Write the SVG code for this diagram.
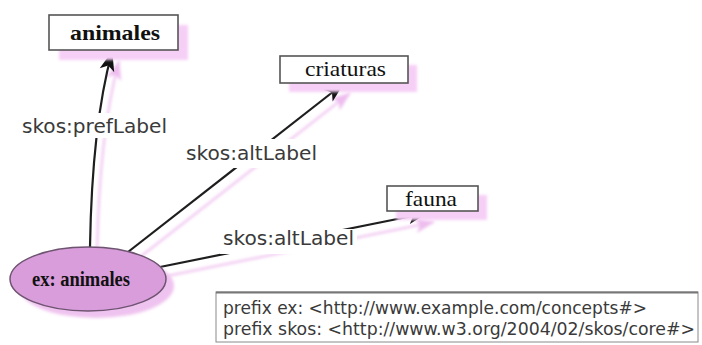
<svg xmlns="http://www.w3.org/2000/svg" width="702" height="345" viewBox="0 0 702 345">
  <style>
    .box { fill: #ffffff; stroke: #555555; stroke-width: 1.6; }
    .shade { fill: #f6cff6; }
    .edge { fill: none; stroke: #1e1e1e; stroke-width: 2.2; }
    .edge-shade { fill: none; stroke: #eebdee; stroke-width: 2; }
    .lbl { font-family: "DejaVu Sans", Verdana, sans-serif; font-size: 20px; fill: #3a3a3a; }
    .lblbg { fill: #ffffff; }
    .term { font-family: "Liberation Serif", "Times New Roman", serif; fill: #111111; }
    .legend { font-family: "DejaVu Sans", Verdana, sans-serif; font-size: 17px; fill: #3a3a3a; }
  </style>
  <defs>
    <filter id="soft" x="-20%" y="-20%" width="140%" height="140%">
      <feGaussianBlur stdDeviation="1.4"/>
    </filter>
    <marker id="head" viewBox="0 0 20 15" refX="19" refY="7.5" markerWidth="20" markerHeight="15" markerUnits="userSpaceOnUse" orient="auto" overflow="visible">
      <path d="M0,0 L20,7.5 L0,15 L5,7.5 z" fill="#111111"/>
    </marker>
    <marker id="head-shade" viewBox="0 0 20 15" refX="19" refY="7.5" markerWidth="20" markerHeight="15" markerUnits="userSpaceOnUse" orient="auto" overflow="visible">
      <path d="M0,0 L20,7.5 L0,15 L5,7.5 z" fill="#eebdee"/>
    </marker>
  </defs>

  <rect width="702" height="345" fill="#ffffff"/>

  <!-- connector shadows and connectors -->
  <g id="connectors">
    <g transform="translate(7,9)" filter="url(#soft)">
      <path class="edge-shade" d="M90,247 Q92,125 112,52" marker-end="url(#head-shade)"/>
      <path class="edge-shade" d="M128,252 L343,84" marker-end="url(#head-shade)"/>
      <path class="edge-shade" d="M160,267 L427,213" marker-end="url(#head-shade)"/>
    </g>
    <path class="edge" d="M90,247 Q92,125 112,52" marker-end="url(#head)"/>
    <path class="edge" d="M128,252 L343,84" marker-end="url(#head)"/>
    <path class="edge" d="M160,267 L427,213" marker-end="url(#head)"/>

    <!-- edge labels sit on a white patch that interrupts the line -->
    <rect class="lblbg" x="19" y="113" width="152" height="25"/>
    <text class="lbl" x="22" y="133" textLength="145" lengthAdjust="spacingAndGlyphs">skos:prefLabel</text>
    <rect class="lblbg" x="183" y="139" width="138" height="29"/>
    <text class="lbl" x="186" y="160" textLength="131" lengthAdjust="spacingAndGlyphs">skos:altLabel</text>
    <rect class="lblbg" x="220" y="229" width="137" height="25"/>
    <text class="lbl" x="223" y="245" textLength="131" lengthAdjust="spacingAndGlyphs">skos:altLabel</text>
  </g>

  <!-- literal: animales -->
  <g id="node-animales">
    <rect class="shade" x="59" y="25" width="129" height="35" filter="url(#soft)"/>
    <rect class="box" x="49" y="15" width="129" height="35"/>
    <text class="term" x="70" y="40" font-size="22" font-weight="bold" textLength="90" lengthAdjust="spacingAndGlyphs">animales</text>
  </g>

  <!-- literal: criaturas -->
  <g id="node-criaturas">
    <rect class="shade" x="289" y="65" width="128" height="27" filter="url(#soft)"/>
    <rect class="box" x="280" y="56" width="128" height="27"/>
    <text class="term" x="305" y="76" font-size="21" textLength="81" lengthAdjust="spacingAndGlyphs">criaturas</text>
  </g>

  <!-- literal: fauna -->
  <g id="node-fauna">
    <rect class="shade" x="396" y="195" width="91" height="25" filter="url(#soft)"/>
    <rect class="box" x="387" y="186" width="91" height="25"/>
    <text class="term" x="405" y="206" font-size="21" textLength="52" lengthAdjust="spacingAndGlyphs">fauna</text>
  </g>

  <!-- concept: ex: animales -->
  <g id="node-ex-animales">
    <ellipse cx="96" cy="286" rx="78" ry="32" fill="#efc3ef" filter="url(#soft)"/>
    <ellipse cx="88" cy="279" rx="78" ry="32" fill="#d99ddc" stroke="#6e5470" stroke-width="1.5"/>
    <text class="term" x="32" y="286" font-size="20" font-weight="bold" fill="#1a1030" textLength="98" lengthAdjust="spacingAndGlyphs">ex: animales</text>
  </g>

  <!-- namespace prefixes -->
  <g id="legend">
    <rect x="216" y="292" width="482" height="50" fill="#ffffff" stroke="#8a8a8a" stroke-width="1"/>
    <line x1="216" y1="292.5" x2="698" y2="292.5" stroke="#777777" stroke-width="2"/>
    <text class="legend" x="223" y="314" textLength="424" lengthAdjust="spacingAndGlyphs">prefix ex: &lt;http://www.example.com/concepts#&gt;</text>
    <text class="legend" x="223" y="335" textLength="472" lengthAdjust="spacingAndGlyphs">prefix skos: &lt;http://www.w3.org/2004/02/skos/core#&gt;</text>
  </g>
</svg>
